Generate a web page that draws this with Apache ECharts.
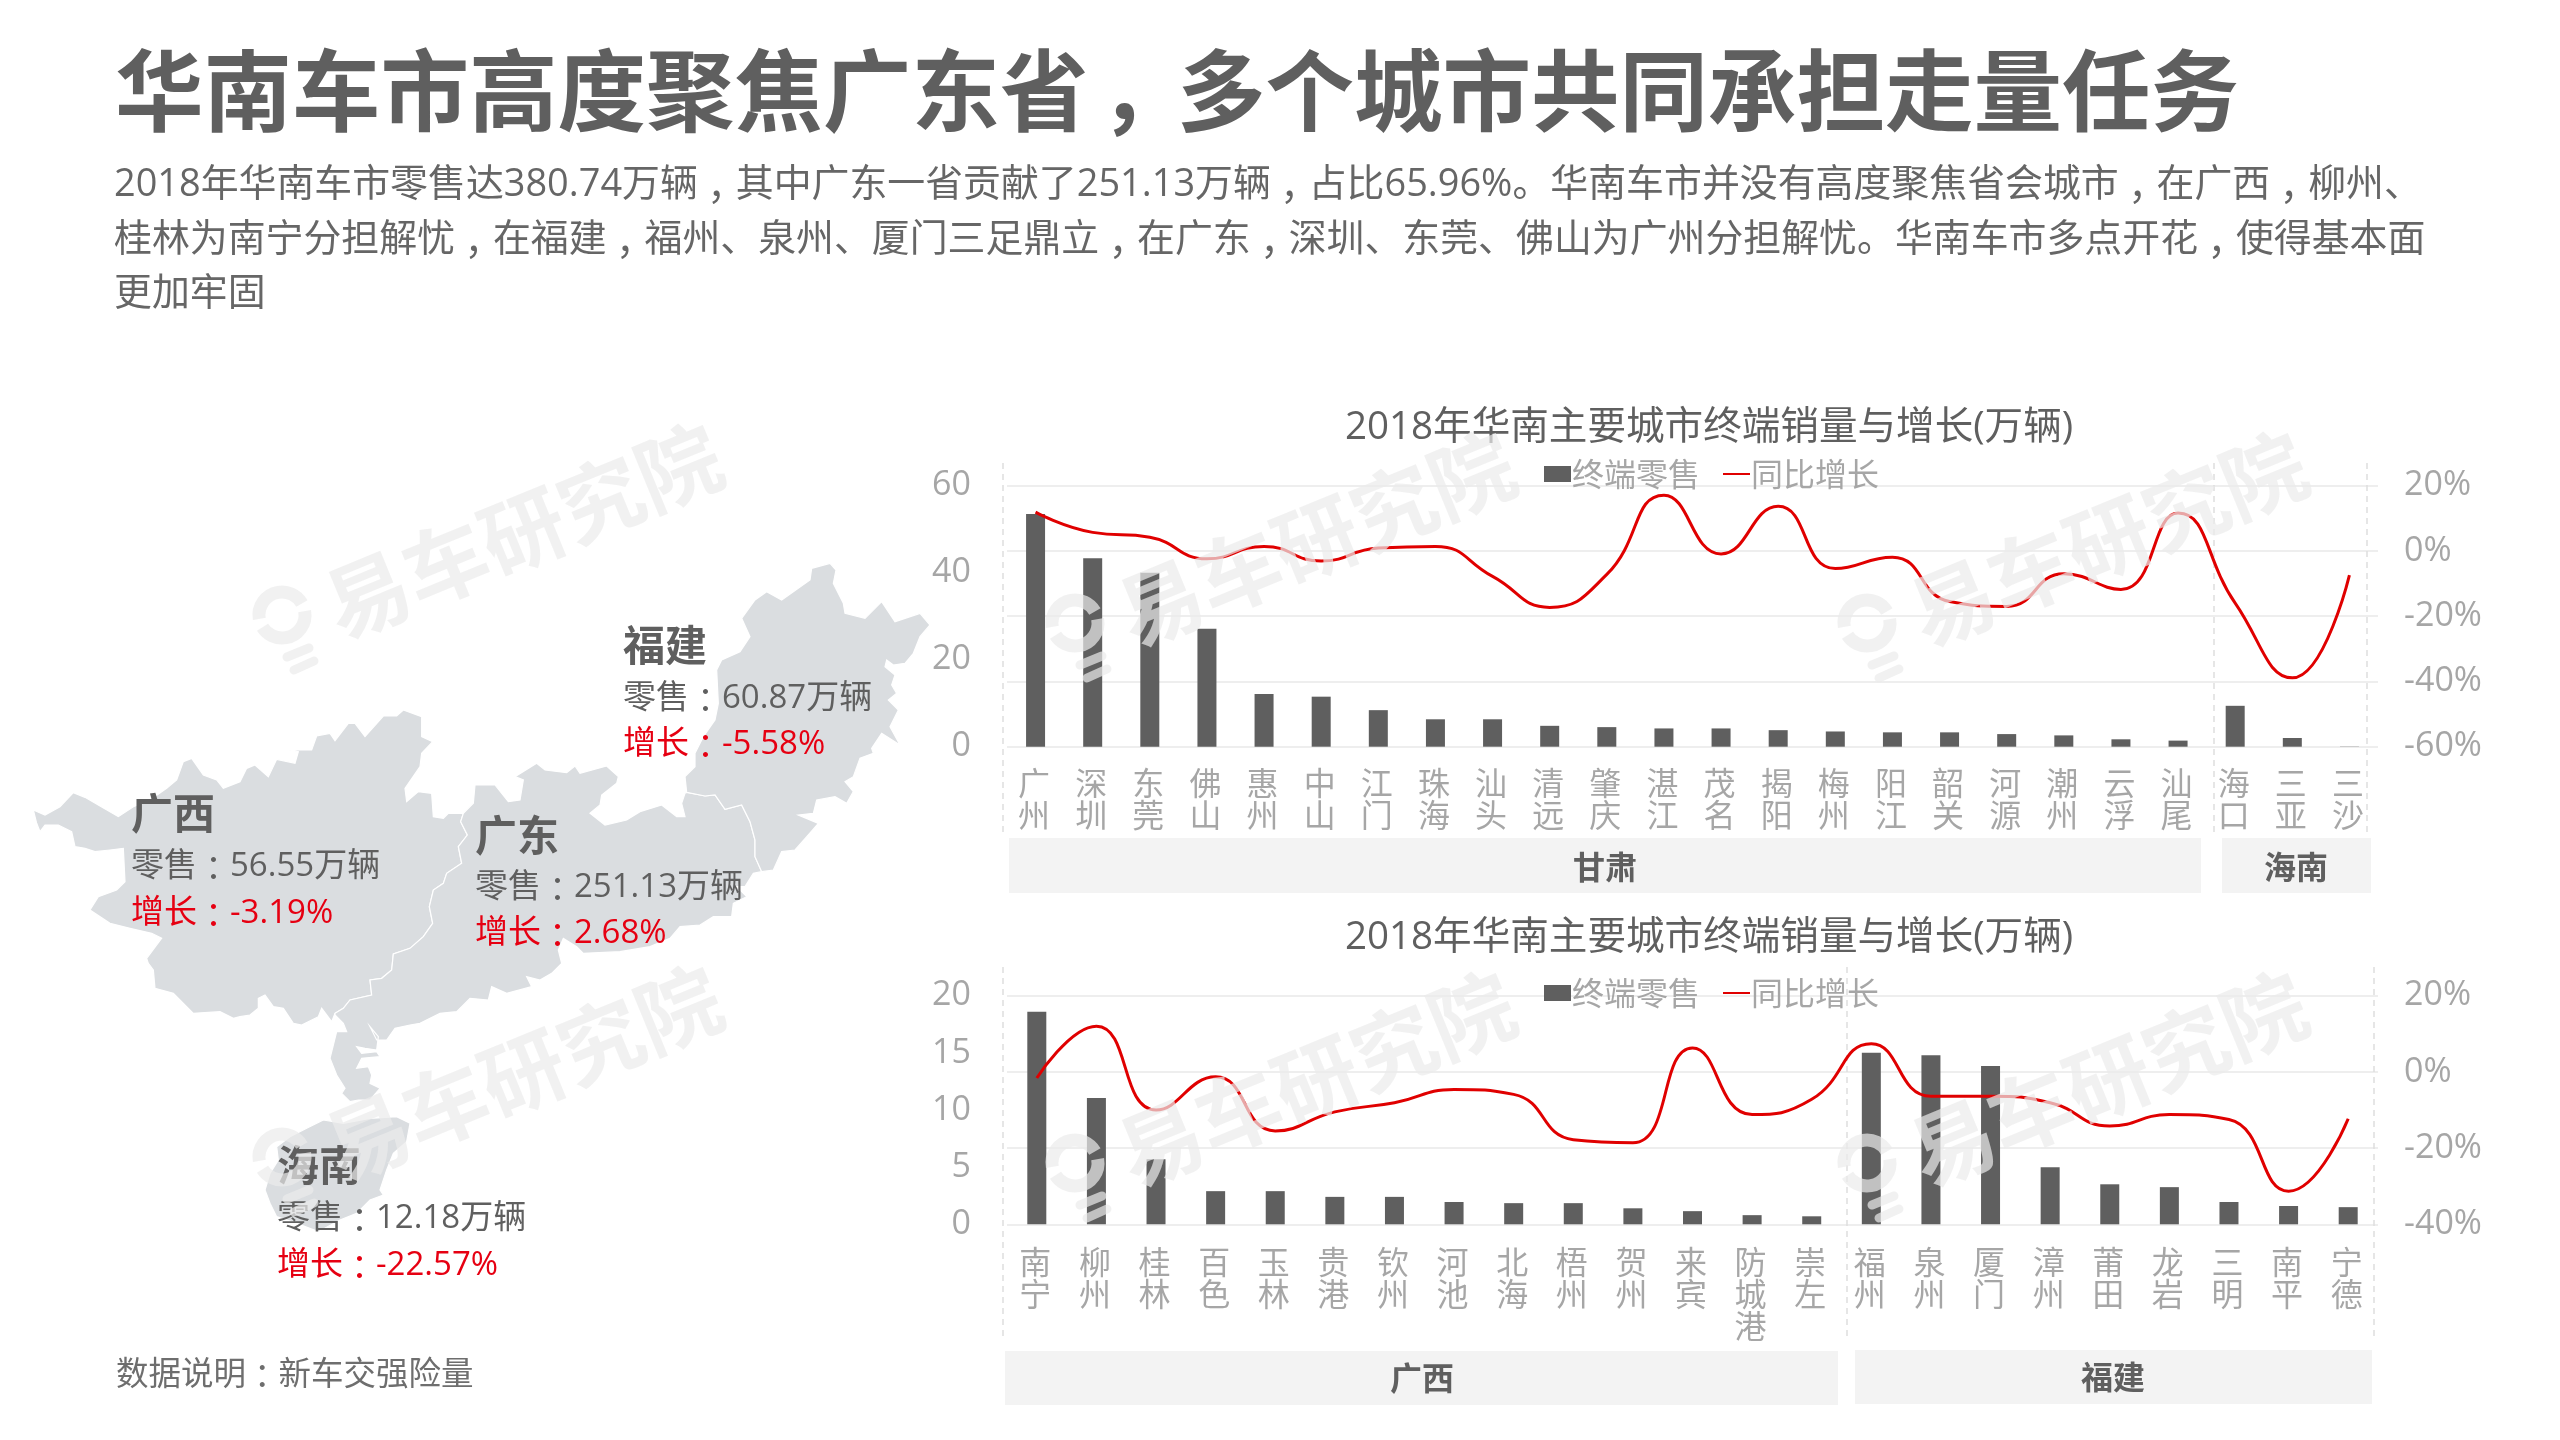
<!DOCTYPE html>
<html>
<head>
<meta charset="utf-8">
<title>华南车市</title>
<script src="https://cdn.jsdelivr.net/npm/echarts@6/dist/echarts.min.js"></script>
<style>
html,body{margin:0;padding:0;background:#fff}
#chart{width:2560px;height:1440px}
</style>
</head>
<body>
<div id="chart"></div>
<script>
// Headline and body copy
const headline = '华南车市高度聚焦广东省，多个城市共同承担走量任务';
const paragraph = [
  '2018年华南车市零售达380.74万辆，其中广东一省贡献了251.13万辆，占比65.96%。华南车市并没有高度聚焦省会城市，在广西，柳州、',
  '桂林为南宁分担解忧，在福建，福州、泉州、厦门三足鼎立，在广东，深圳、东莞、佛山为广州分担解忧。华南车市多点开花，使得基本面',
  '更加牢固'
];
const footnote = '数据说明：新车交强险量';
const chartTitle = '2018年华南主要城市终端销量与增长(万辆)';
const barName = '终端零售';
const lineName = '同比增长';

// Province totals
const provinceNames = ['广西', '广东', '福建', '海南'];
const provinceRetail = ['56.55', '251.13', '60.87', '12.18'];
const provinceGrowth = ['-3.19', '2.68', '-5.58', '-22.57'];

// Upper panel: 广东 and 海南 cities
const upperCities = ['广州','深圳','东莞','佛山','惠州','中山','江门','珠海','汕头','清远','肇庆','湛江','茂名','揭阳','梅州','阳江','韶关','河源','潮州','云浮','汕尾','海口','三亚','三沙'];
const upperRetail = [53.5,43.3,40.0,27.1,12.1,11.5,8.4,6.3,6.3,4.8,4.5,4.2,4.2,3.8,3.5,3.3,3.3,2.9,2.6,1.7,1.4,9.4,2.0,0.05];
const upperGrowth = [11.9,5.7,4.2,-2.4,1.4,-3.1,0.9,1.4,-7.8,-17.3,-7.2,17.1,-0.9,13.7,-5.4,-1.9,-15.5,-17,-7,-11.8,11.6,-16,-38.9,-7.4];

// Lower panel: 广西 and 福建 cities
const lowerCities = ['南宁','柳州','桂林','百色','玉林','贵港','钦州','河池','北海','梧州','贺州','来宾','防城港','崇左','福州','泉州','厦门','漳州','莆田','龙岩','三明','南平','宁德'];
const lowerRetail = [18.6,11.05,5.7,2.9,2.9,2.4,2.4,1.95,1.85,1.85,1.4,1.15,0.8,0.7,15.0,14.8,13.85,5.0,3.5,3.25,1.95,1.6,1.5];
const lowerGrowth = [-1.6,12,-10,-1.3,-15.5,-10.5,-8.1,-4.6,-5.9,-17.8,-18.6,6.3,-11.2,-7.2,7.4,-6.4,-6.4,-8.1,-14.2,-11.2,-12.5,-31.3,-12.3];

// Province outlines, traced at three units per map pixel
const gxNorth = [[40,330],[75,345],[120,320],[160,278],[195,292],[240,318],[295,350],[340,320],[390,300],[440,265],[470,240],[490,185],[515,175],[550,225],[590,240],[610,265],[660,245],[680,205],[705,195],[745,230],[770,178],[825,190],[835,155],[808,150],[875,150],[890,108],[930,100],[945,122],[985,70],[1005,70],[1035,110],[1090,48],[1130,48],[1150,30],[1205,50],[1205,110],[1238,125],[1205,160],[1200,200],[1155,265],[1160,305],[1195,275],[1235,280],[1240,350],[1270,355],[1285,340]];
const gxGdBorder = [[1330,340],[1322,365],[1342,405],[1315,440],[1325,490],[1280,520],[1270,550],[1240,570],[1228,620],[1238,670],[1210,710],[1170,745],[1120,762],[1115,810],[1085,835],[1050,840],[1055,885],[990,900],[970,925],[945,940]];
const gxSouth = [[935,965],[905,925],[895,950],[845,975],[820,970],[790,925],[760,920],[735,885],[715,895],[715,925],[690,945],[660,950],[640,955],[600,935],[520,940],[460,880],[405,865],[400,810],[385,790],[380,775],[425,715],[395,700],[330,685],[270,670],[210,630],[235,590],[290,570],[315,545],[310,445],[270,450],[225,455],[195,445],[165,440],[155,395],[115,375],[75,375],[60,395],[50,370]];
const gdNorth = [[130,790],[160,760],[165,705],[225,705],[265,755],[300,750],[310,690],[285,680],[350,640],[375,660],[440,668],[465,648],[480,670],[560,648],[595,680],[590,700],[545,735],[540,765],[510,790],[555,825],[620,810],[660,785],[725,765],[770,800],[795,800],[785,760],[795,730]];
const gdFjBorder = [[800,727],[855,738],[885,735],[915,778],[965,765],[990,815],[1005,870],[1005,920],[1025,965]];
const gdEastCoast = [[1000,970],[975,1010],[950,1010],[980,1040],[940,1060],[935,1100],[880,1100],[840,1125],[780,1130],[750,1165],[690,1190],[600,1205],[490,1210],[470,1190],[430,1165],[415,1200],[425,1240],[395,1270],[360,1290],[320,1280],[335,1310],[260,1330],[215,1310],[205,1350],[150,1345],[110,1385],[60,1390],[0,1420]];
const gdPeninsula = [[540,195],[495,205],[470,240],[440,240],[420,200],[445,230],[440,270],[405,265],[380,260],[395,280],[440,275],[450,290],[395,295],[380,325],[415,320],[425,345],[420,370],[450,385],[420,420],[385,420],[360,425],[335,400],[345,385],[320,345],[300,295],[310,255],[320,215],[350,215],[340,190],[315,165]];
const fjOutline = [[795,680],[825,650],[825,610],[850,560],[885,510],[895,460],[890,360],[905,330],[960,305],[990,260],[965,205],[1005,150],[1040,125],[1085,150],[1170,90],[1175,55],[1230,40],[1248,60],[1240,100],[1270,160],[1275,190],[1335,205],[1385,155],[1425,215],[1500,190],[1530,225],[1500,260],[1480,310],[1455,340],[1420,345],[1400,330],[1395,350],[1425,375],[1415,405],[1430,430],[1405,450],[1435,480],[1410,530],[1440,585],[1385,550],[1355,595],[1360,610],[1320,625],[1300,680],[1275,695],[1300,725],[1280,760],[1245,740],[1190,750],[1180,790],[1135,795],[1195,820],[1165,855],[1125,900],[1085,905],[1060,960]];
const hnOutline = [[230,505],[280,480],[340,490],[420,475],[500,470],[540,490],[530,545],[490,580],[470,630],[450,690],[460,705],[420,720],[380,760],[330,780],[265,815],[200,790],[140,770],[120,730],[105,690],[120,640],[145,600],[140,560],[180,530]];

const toMapUnits = (ox, oy, pts) => pts.map(([x, y]) => [ox + x / 3, oy + y / 3]);
const closeRing = (pts) => pts.concat([pts[0]]);
const rev = (a) => a.slice().reverse();

const gxBorderPts = toMapUnits(20, 700, gxGdBorder);
const gdFjPts = toMapUnits(420, 550, gdFjBorder);
const ringGx = closeRing([...toMapUnits(20, 700, gxNorth), ...gxBorderPts, ...toMapUnits(20, 700, gxSouth)]);
const ringGd = closeRing([...toMapUnits(420, 550, gdNorth), ...gdFjPts, ...toMapUnits(420, 550, gdEastCoast), ...toMapUnits(230, 960, gdPeninsula), ...rev(gxBorderPts)]);
const ringFj = closeRing([...toMapUnits(420, 550, fjOutline), ...rev(gdFjPts)]);
const ringHn = closeRing(toMapUnits(230, 960, hnOutline));

const regionFeature = (name, ring) => ({
  type: 'Feature', properties: { name },
  geometry: { type: 'Polygon', coordinates: [ring] }
});
const rings = [ringGx, ringGd, ringFj, ringHn];
echarts.registerMap('southChina', {
  type: 'FeatureCollection',
  features: provinceNames.map((n, i) => regionFeature(n, rings[i]))
});
const allPts = rings.flat();
const mapLeft = Math.min(...allPts.map(p => p[0]));
const mapRight = Math.max(...allPts.map(p => p[0]));
const mapTop = Math.min(...allPts.map(p => p[1]));
const mapBottom = Math.max(...allPts.map(p => p[1]));

// Shared style constants
const FONT = '"Open Sans","Noto Sans CJK SC",sans-serif';
const CJK = '"Noto Sans CJK SC",sans-serif';
const CJK_TC = '"Noto Sans CJK TC",sans-serif';
const DARK = '#5f5f5f';
const AXIS_TEXT = '#a6a6a6';
const RED = '#e60012';
const LINE_RED = '#e00000';
const GRID_LINE = '#eeeeee';
const BAND = '#f3f3f3';

const graphics = [];
// The full-width comma gets an indented token; the colon comes from the TC face, where it is centred.
const addText = (text, x, y, size, fill, weight, align, family) => {
  const w = weight || 'normal';
  const indent = w === 'bold' ? 0.125 : 0.25;
  const style = {
    text: text.replace(/，/g, '{p|，}').replace(/：/g, '{c|：}'),
    fill, fontSize: size, fontWeight: w, fontFamily: family || FONT,
    align: align || 'left', verticalAlign: 'middle',
    rich: {
      p: { width: size * (1 - indent), padding: [0, 0, 0, size * indent], fill, fontSize: size, fontWeight: w, fontFamily: CJK },
      c: { fill, fontSize: size, fontWeight: w, fontFamily: CJK_TC }
    }
  };
  graphics.push({ type: 'text', x, y, z: 10, silent: true, style });
};

// Headline block
addText(headline, 115, 90, 88.5, DARK, 'bold', 'left', CJK);
[185, 240, 294].forEach((y, i) => addText(paragraph[i], 114, y, 37.9, '#666666'));
addText(footnote, 116, 1376, 32.5, '#6e6e6e');

// Province captions over the map
const captionAnchors = [[131, 813, 867, 914], [475, 835, 888, 934], [623, 645, 699, 745], [277, 1165, 1219, 1266]];
provinceNames.forEach((name, i) => {
  const [x, yName, yRetail, yGrowth] = captionAnchors[i];
  addText(name, x, yName, 42, DARK, 'bold', 'left', CJK);
  addText('零售：' + provinceRetail[i] + '万辆', x, yRetail, 33, DARK);
  addText('增长：' + provinceGrowth[i] + '%', x, yGrowth, 33, RED);
});

// Province bands beneath the category labels
const bands = [
  [1009, 838, 1192, 55, '甘肃', 1605, 867],
  [2222, 838, 149, 55, '海南', 2296, 867],
  [1005, 1351, 833, 54, '广西', 1422, 1378],
  [1855, 1350, 517, 54, '福建', 2113, 1377]
];
bands.forEach(([x, y, w, h, label, tx, ty]) => {
  graphics.push({ type: 'rect', z: 1, silent: true, shape: { x, y, width: w, height: h }, style: { fill: BAND } });
  addText(label, tx, ty, 32, DARK, 'bold', 'center', CJK);
});

// Dashed separators between province groups
const separators = [[1003, 463, 833], [2214, 463, 833], [2367, 463, 833], [1003, 967, 1340], [1847, 967, 1340], [2374, 967, 1340]];
separators.forEach(([x, y1, y2]) => graphics.push({
  type: 'line', z: 1, silent: true, shape: { x1: x, y1, x2: x, y2 },
  style: { stroke: '#dedede', lineWidth: 1.5, lineDash: [6, 5] }
}));

// Repeating brand mark, drawn above everything else
const WM = 'rgba(235,235,235,0.7)';
const brandMarks = [[282, 615], [1075, 623], [1867, 623], [282, 1157], [1075, 1163], [1867, 1163]];
brandMarks.forEach(([x, y]) => {
  const ringStyle = { stroke: WM, fill: 'none', lineWidth: 13, lineCap: 'butt' };
  graphics.push({ type: 'arc', z: 100, silent: true, shape: { cx: x, cy: y, r: 23, startAngle: -190 * Math.PI / 180, endAngle: -30 * Math.PI / 180, clockwise: true }, style: ringStyle });
  graphics.push({ type: 'arc', z: 100, silent: true, shape: { cx: x, cy: y, r: 23, startAngle: -10 * Math.PI / 180, endAngle: 148 * Math.PI / 180, clockwise: true }, style: ringStyle });
  graphics.push({ type: 'line', z: 100, silent: true, shape: { x1: x + 5, y1: y + 42, x2: x + 27, y2: y + 33 }, style: { stroke: WM, lineWidth: 9, lineCap: 'round' } });
  graphics.push({ type: 'line', z: 100, silent: true, shape: { x1: x + 12, y1: y + 55, x2: x + 32, y2: y + 46 }, style: { stroke: WM, lineWidth: 9, lineCap: 'round' } });
  graphics.push({
    type: 'text', x: x + 241, y: y - 84, z: 100, silent: true, rotation: 0.39,
    style: { text: '易车研究院', fill: WM, fontSize: 84, fontWeight: 'bold', fontFamily: CJK, align: 'center', verticalAlign: 'middle' }
  });
});

const verticalLabel = (v) => v.split('').join('\n');
const catAxis = (idx, cities, margin) => ({
  type: 'category', gridIndex: idx, data: cities,
  axisLine: { show: false }, axisTick: { show: false },
  axisLabel: { interval: 0, margin, formatter: verticalLabel, color: AXIS_TEXT, fontSize: 32, lineHeight: 32, fontFamily: CJK, padding: [0, 3, 0, 0] }
});
const leftAxis = (idx, max, interval) => ({
  type: 'value', gridIndex: idx, min: 0, max, interval, position: 'left',
  axisLine: { show: false }, axisTick: { show: false }, splitLine: { show: false },
  axisLabel: { margin: 36, color: AXIS_TEXT, fontSize: 34, fontFamily: FONT, padding: [6, 0, 0, 0] }
});
const rightAxis = (idx, min, max) => ({
  type: 'value', gridIndex: idx, min, max, interval: 20, position: 'right',
  axisLine: { show: false }, axisTick: { show: false },
  splitLine: { show: true, lineStyle: { color: GRID_LINE, width: 2 } },
  axisLabel: { margin: 26, formatter: '{value}%', color: AXIS_TEXT, fontSize: 34, fontFamily: FONT, padding: [6, 0, 0, 0] }
});
const barSeries = (xi, yi, data) => ({
  name: barName, type: 'bar', xAxisIndex: xi, yAxisIndex: yi, data, barWidth: 19,
  itemStyle: { color: DARK }, silent: true, z: 3
});
const lineSeries = (xi, yi, data) => ({
  name: lineName, type: 'line', xAxisIndex: xi, yAxisIndex: yi, data, smooth: 0.5,
  symbol: 'none', lineStyle: { color: LINE_RED, width: 3 }, itemStyle: { color: LINE_RED }, silent: true, z: 4
});
const legendAt = (top) => ({
  left: 1544, top, itemWidth: 27, itemHeight: 16, itemGap: 22, padding: 0,
  selectedMode: false,
  data: [
    { name: barName, icon: 'rect' },
    { name: lineName, itemStyle: { color: 'rgba(0,0,0,0)' } }
  ],
  textStyle: { color: AXIS_TEXT, fontSize: 32, fontFamily: CJK, padding: [10, 0, 0, -4] }
});

const chart = echarts.init(document.getElementById('chart'), null, { renderer: 'canvas' });
const titleStyle = { color: DARK, fontSize: 38.6, fontWeight: 'normal', fontFamily: FONT };
chart.setOption({
  animation: false,
  backgroundColor: '#ffffff',
  title: [
    { text: chartTitle, left: 1704, top: 423, textAlign: 'center', textVerticalAlign: 'middle', textStyle: titleStyle },
    { text: chartTitle, left: 1704, top: 933, textAlign: 'center', textVerticalAlign: 'middle', textStyle: titleStyle }
  ],
  legend: [legendAt(458), legendAt(977)],
  grid: [
    { left: 1007, width: 1371, top: 485.7, height: 261 },
    { left: 1007, width: 1371, top: 995.7, height: 228.6 }
  ],
  xAxis: [catAxis(0, upperCities, 20), catAxis(1, lowerCities, 22)],
  yAxis: [leftAxis(0, 60, 20), rightAxis(0, -60, 20), leftAxis(1, 20, 5), rightAxis(1, -40, 20)],
  series: [
    {
      type: 'map', map: 'southChina', silent: true, roam: false, selectedMode: false,
      showLegendSymbol: false,
      projection: { project: (p) => p, unproject: (p) => p },
      left: mapLeft, top: mapTop, width: mapRight - mapLeft, height: mapBottom - mapTop,
      label: { show: false },
      itemStyle: { areaColor: '#dadde0', borderColor: '#ffffff', borderWidth: 1.2 },
      data: provinceNames.map((name, i) => ({ name, value: Number(provinceRetail[i]) }))
    },
    barSeries(0, 0, upperRetail),
    lineSeries(0, 1, upperGrowth),
    barSeries(1, 2, lowerRetail),
    lineSeries(1, 3, lowerGrowth)
  ],
  graphic: graphics
});
</script>
</body>
</html>
